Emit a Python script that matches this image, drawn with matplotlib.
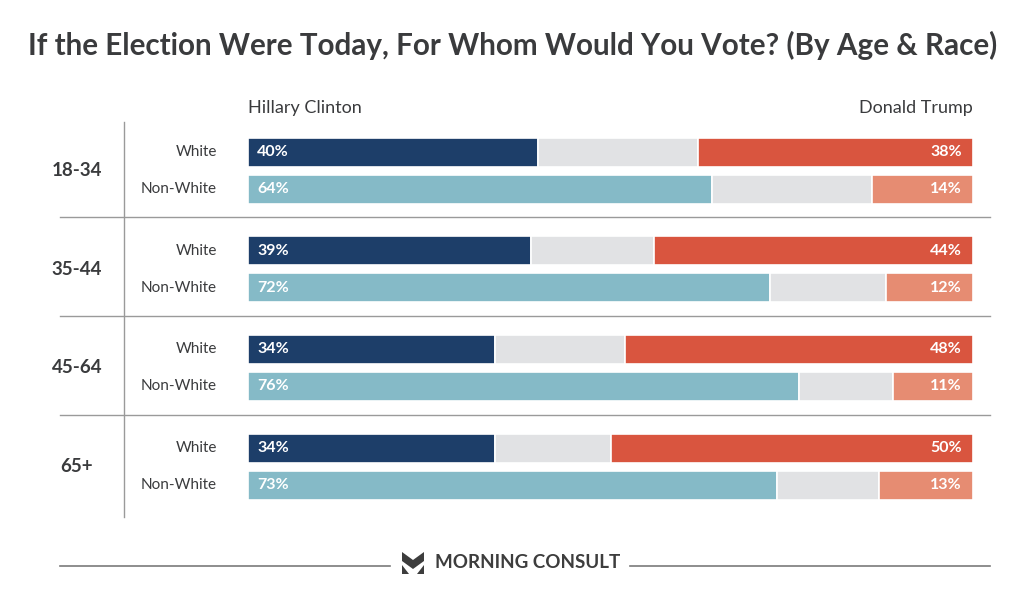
import matplotlib.pyplot as plt
from matplotlib.patches import Polygon

# Poll values (percent)
age_groups = ['18-34', '35-44', '45-64', '65+']
races = ['White', 'Non-White']
clinton = [[40, 64], [39, 72], [34, 76], [34, 73]]
trump = [[38, 14], [44, 12], [48, 11], [50, 13]]

clinton_colors = ['#1d3e69', '#85bac7']
trump_colors = ['#d9553f', '#e68c72']
gray = '#e1e2e4'
text_dark = '#3a3b3d'

plt.rcParams['font.family'] = ['Lato', 'DejaVu Sans']

fig = plt.figure(figsize=(10.24, 6.02), dpi=100)
ax = fig.add_axes([0, 0, 1, 1])
# x: percent scale, bars from px 248 to 973; y: pixel rows
px = 7.25
ax.set_xlim(-248 / px, (1024 - 248) / px)
ax.set_ylim(602, 0)
ax.axis('off')

def xp(p):
    return (p - 248) / px

ax.text(xp(513), 45, 'If the Election Were Today, For Whom Would You Vote? (By Age & Race)',
        ha='center', va='center', fontsize=21.3, fontweight='bold', color=text_dark)
ax.text(0, 108, 'Hillary Clinton', ha='left', va='center', fontsize=13, color=text_dark)
ax.text(100, 108, 'Donald Trump', ha='right', va='center', fontsize=13, color=text_dark)

bar_h = 29
for g, grp in enumerate(age_groups):
    y0 = 152 + g * 98.7
    ax.text(xp(77), y0 + 18.5, grp, ha='center', va='center', fontsize=13.5,
            fontweight='bold', color=text_dark)
    for s, race in enumerate(races):
        y = y0 + s * 37
        c = clinton[g][s]
        t = trump[g][s]
        u = 100 - c - t
        ax.barh(y, c, left=0, height=bar_h, color=clinton_colors[s],
                edgecolor='white', linewidth=1.2)
        ax.barh(y, u, left=c, height=bar_h, color=gray,
                edgecolor='white', linewidth=1.2)
        ax.barh(y, t, left=c + u, height=bar_h, color=trump_colors[s],
                edgecolor='white', linewidth=1.2)
        ax.text(xp(257), y, f'{c}%', ha='left', va='center', fontsize=11.5,
                fontweight='bold', color='white')
        ax.text(xp(962), y, f'{t}%', ha='right', va='center', fontsize=11.5,
                fontweight='bold', color='white')
        ax.text(xp(217), y, race, ha='right', va='center', fontsize=11,
                color=text_dark)
    if g > 0:
        ax.plot([xp(60), xp(990)], [y0 - 33.5, y0 - 33.5], color='#9a9a9a',
                linewidth=1, clip_on=False)

ax.plot([xp(124.5), xp(124.5)], [122, 517], color='#9a9a9a', linewidth=1)

# footer
ax.plot([xp(60), xp(390)], [566, 566], color='#7a7a7a', linewidth=1.2)
ax.plot([xp(630), xp(990)], [566, 566], color='#7a7a7a', linewidth=1.2)
logo_color = '#3d3d3d'
for pts in ([(402, 552), (413, 560), (424, 552), (424, 561), (413, 569), (402, 561)],
            [(402, 565), (409, 574), (402, 574)],
            [(424, 565), (417, 574), (424, 574)]):
    ax.add_patch(Polygon([(xp(x), y) for x, y in pts], closed=True,
                         color=logo_color, linewidth=0))
ax.text(xp(435), 563, 'MORNING CONSULT', ha='left', va='center', fontsize=13.5,
        fontweight='bold', color=logo_color)

fig.savefig('out.png', dpi=100, facecolor='white')
